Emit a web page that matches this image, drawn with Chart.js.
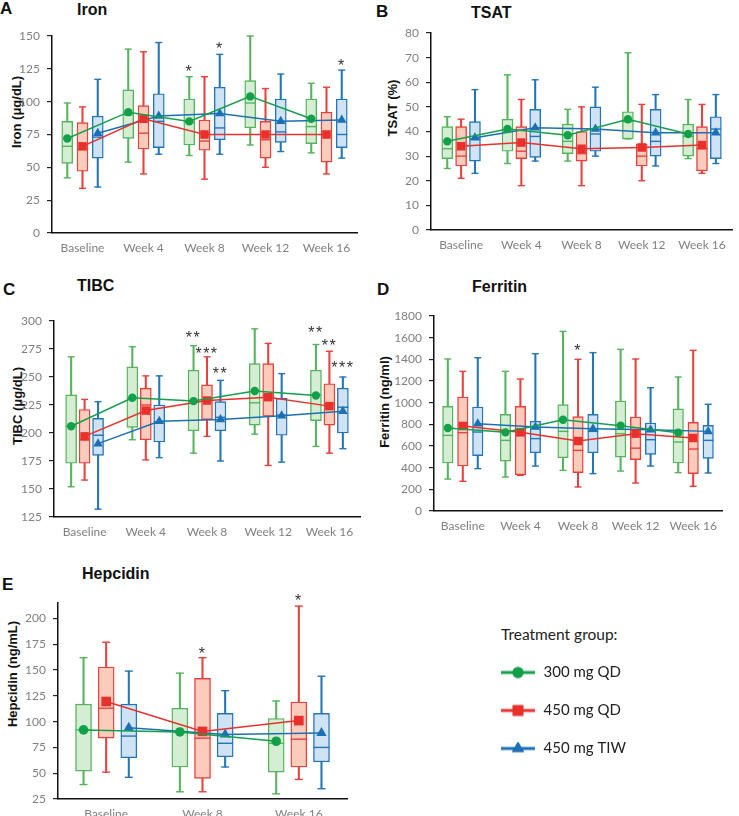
<!DOCTYPE html>
<html><head><meta charset="utf-8">
<script src="https://cdn.jsdelivr.net/npm/chart.js@4.4.1/dist/chart.umd.min.js"></script>
<style>
body{margin:0;background:#fff;width:739px;height:816px;position:relative;overflow:hidden;font-family:'Liberation Sans',Arial,sans-serif}
canvas{position:absolute}
.t{position:absolute;font-weight:bold;color:#111;white-space:nowrap;line-height:1;font-size:16px}
.yt{position:absolute;transform:translate(-50%,-50%) rotate(-90deg);font:bold 13px 'Liberation Sans',Arial,sans-serif;color:#111;white-space:nowrap;line-height:1}
.lt{position:absolute;font:15.5px Lato,sans-serif;color:#222;white-space:nowrap;line-height:1}
</style></head><body>
<div class="t" style="left:0px;top:0px;font-size:17px">A</div>
<div class="t" style="left:77px;top:2px">Iron</div>
<div class="t" style="left:376px;top:3px;font-size:17px">B</div>
<div class="t" style="left:471px;top:5px">TSAT</div>
<div class="t" style="left:3px;top:281px;font-size:17px">C</div>
<div class="t" style="left:77px;top:278px">TIBC</div>
<div class="t" style="left:377px;top:281px;font-size:17px">D</div>
<div class="t" style="left:472px;top:279px">Ferritin</div>
<div class="t" style="left:2px;top:576px;font-size:17px">E</div>
<div class="t" style="left:82px;top:566px">Hepcidin</div>
<div class="yt" style="left:16px;top:112px">Iron (μg/dL)</div>
<div class="yt" style="left:392px;top:108px">TSAT (%)</div>
<div class="yt" style="left:17px;top:406px">TIBC (μg/dL)</div>
<div class="yt" style="left:384px;top:402px">Ferritin (ng/ml)</div>
<div class="yt" style="left:12px;top:674px">Hepcidin (ng/mL)</div>
<div class="lt" style="left:501px;top:627px">Treatment group:</div>

<canvas id="cA" width="370" height="260" style="left:0;top:0"></canvas>
<canvas id="cB" width="370" height="260" style="left:369px;top:0"></canvas>
<canvas id="cC" width="370" height="260" style="left:0;top:280px"></canvas>
<canvas id="cD" width="370" height="260" style="left:369px;top:280px"></canvas>
<canvas id="cE" width="480" height="256" style="left:0;top:560px"></canvas>
<canvas id="cL" width="200" height="150" style="left:477px;top:642px"></canvas>

<script>
// ---------- DATA ----------
const timepoints = ['Baseline', 'Week 4', 'Week 8', 'Week 12', 'Week 16'];
const hepcidinTimepoints = ['Baseline', 'Week 8', 'Week 16'];
const groupNames = ['300 mg QD', '450 mg QD', '450 mg TIW'];

// box plots: [min, Q1, median, Q3, max] per timepoint
const ironBox300 = [[42,53,66,85,99],[54,72,90,109,140],[59,67,84,102,119],[67,80,99,116,150],[61,68,81,102,114]];
const ironBox450 = [[34,47,64,84,96],[45,64,76,97,138],[41,63,70,86,119],[50,57,71,85,110],[45,54,75,92,111]];
const ironBoxTIW = [[35,57,73,89,117],[60,65,85,106,145],[60,71,80,111,136],[62,69,77,102,121],[57,65,75,102,124]];
const ironMean300 = [72, 92, 85, 104, 87];
const ironMean450 = [66, 87, 75, 75, 75];
const ironMeanTIW = [76, 89, 91, 85, 86];
const ironTicks = [0, 25, 50, 75, 100, 125, 150];
const ironStars = [[2,0,'*',125],[2,2,'*',143],[4,2,'*',130]];

const tsatBox300 = [[25,29,33,42,46],[27,32,40,45,63],[28,31,36,43,49],[37,37,44,48,72],[29,30,38,43,53]];
const tsatBox450 = [[21,26,30,42,45],[18,29,32,42,53],[18,28,31,40,50],[20,26,30,35,51],[23,24,33,42,51]];
const tsatBoxTIW = [[23,28,37,44,57],[28,29.5,38,49,61],[30,32,39,50,58],[26,30,36,49,55],[27,29,41,46,55]];
const tsatMean300 = [36, 41, 38.5, 45, 39];
const tsatMean450 = [34, 35.5, 33, 33.5, 34.5];
const tsatMeanTIW = [37.5, 41.5, 41, 39.5, 39.5];
const tsatTicks = [0, 10, 20, 30, 40, 50, 60, 70, 80];

const tibcBox300 = [[152,173,206,234,268],[194,205,231,259,277],[182,202,228,256,278],[199,207,227,262,293],[188,211,234,256,279]];
const tibcBox450 = [[158,173,194,221,230],[176,194,225,240,251],[197,212,229,243,268],[171,215,234,262,280],[182,207,226,244,273]];
const tibcBoxTIW = [[132,180,198,213,228],[178,192,210,225,251],[175,202,214,228,247],[174,198,216,231,253],[186,200,223,240,250]];
const tibcMean300 = [206, 231.5, 228.5, 237.5, 233.5];
const tibcMean450 = [197, 220, 229, 232, 224];
const tibcMeanTIW = [190.5, 210.5, 212, 215.5, 219.5];
const tibcTicks = [125, 150, 175, 200, 225, 250, 275, 300];
const tibcStars = [[2,0,'**',288],[2,1,'***',274],[2,2,'**',256],[4,0,'**',292],[4,1,'**',281],[4,2,'***',261]];

const ferBox300 = [[295,443,698,966,1403],[314,461,652,892,1289],[375,492,735,982,1658],[369,498,714,1015,1492],[354,443,637,942,1237]];
const ferBox450 = [[274,415,723,1052,1289],[329,335,698,966,1218],[222,354,560,871,1400],[258,474,580,868,1403],[228,345,572,818,1483]];
const ferBoxTIW = [[391,511,729,960,1415],[415,538,668,828,1452],[345,538,735,892,1462],[415,523,658,812,1138],[351,486,652,791,985]];
const ferMean300 = [766, 726, 843, 788, 723];
const ferMean450 = [785, 726, 646, 714, 674];
const ferMeanTIW = [806, 775, 760, 751, 735];
const ferTicks = [0, 200, 400, 600, 800, 1000, 1200, 1400, 1600, 1800];
const ferStars = [[2,1,'*',1505]];

const hepBox300 = [[39,52,92,117,162],[32,56,90,113,147],[30,51,79,103,120]];
const hepBox450 = [[51,84,113,153,177],[32,45,84,142,162],[44,56,83,119,212]];
const hepBoxTIW = [[46,65,86,117,149],[56,66,79,108,130],[35,61,75,108,144]];
const hepMean300 = [92, 90, 81];
const hepMean450 = [119.5, 90.5, 101];
const hepMeanTIW = [94, 87.5, 89];
const hepTicks = [25, 50, 75, 100, 125, 150, 175, 200];
const hepStars = [[1,1,'*',169],[2,1,'*',220]];

// ---------- STYLE ----------
const fills = ['#d5eed3', '#fbcbbb', '#cfe3f5'];
const edges = ['#55b45c', '#e8413c', '#2275b9'];
const lineCols = ['#13a04a', '#e8312c', '#1b70b5'];
const markers = ['circle', 'rect', 'triangle'];
const tickFont = {family: 'Lato', size: 12};
const tickColor = '#808080';

const starPlugin = {
  id: 'stars',
  afterDatasetsDraw(chart, args, opts) {
    const {ctx, scales: {x, y}} = chart;
    ctx.save();
    ctx.fillStyle = '#333';
    ctx.font = '16px "Liberation Sans"';
    ctx.textAlign = 'center';
    ctx.textBaseline = 'middle';
    try { ctx.letterSpacing = '1.5px'; } catch (e) {}
    (opts.items || []).forEach(([t, g, txt, v]) => {
      ctx.fillText(txt, x.getPixelForValue(t + opts.offset * (g - 1)), y.getPixelForValue(v) + 4);
    });
    ctx.restore();
  }
};

function buildPanel(id, o) {
  const n = o.labels.length;
  const datasets = [];
  o.boxes.forEach((boxes, g) => {
    const xs = boxes.map((b, i) => i + o.offset * (g - 1));
    datasets.push({type: 'bar', data: boxes.map((b, i) => ({x: xs[i], y: [b[0], b[4]]})),
      backgroundColor: edges[g], borderWidth: 0, barThickness: 1.4, maxBarThickness: 1.4, grouped: false, order: 6, clip: false});
    datasets.push({type: 'bar', data: boxes.map((b, i) => ({x: xs[i], y: [b[1], b[3]]})),
      backgroundColor: fills[g], borderColor: edges[g], borderWidth: 1.4, borderSkipped: false,
      barThickness: o.boxW, maxBarThickness: o.boxW, grouped: false, order: 5, clip: false});
    datasets.push({type: 'scatter', data: boxes.map((b, i) => ({x: xs[i], y: b[2]})),
      pointStyle: 'line', pointRadius: o.boxW / 2, borderColor: edges[g], pointBorderColor: edges[g],
      borderWidth: 1.4, pointBorderWidth: 1.4, order: 4, clip: false});
    datasets.push({type: 'scatter', data: boxes.flatMap((b, i) => [{x: xs[i], y: b[0]}, {x: xs[i], y: b[4]}]),
      pointStyle: 'line', pointRadius: o.capR, borderColor: edges[g], pointBorderColor: edges[g],
      borderWidth: 1.4, pointBorderWidth: 1.4, order: 4, clip: false});
    datasets.push({type: 'line', data: o.means[g].map((m, i) => ({x: xs[i], y: m})),
      borderColor: lineCols[g], backgroundColor: lineCols[g], pointBackgroundColor: lineCols[g],
      pointBorderColor: lineCols[g], pointBorderWidth: 0, pointStyle: markers[g], pointRadius: o.markR[g],
      borderWidth: 1.5, order: 1, clip: false});
  });
  const cv = document.getElementById(id);
  return new Chart(cv, {
    type: 'bar',
    data: {datasets},
    plugins: [starPlugin],
    options: {
      responsive: false, animation: false, events: [],
      layout: {padding: {left: 0, top: o.top, right: cv.width - o.right, bottom: cv.height - o.bottom - o.xH}},
      plugins: {legend: {display: false}, tooltip: {enabled: false}, stars: {items: o.stars, offset: o.offset}},
      scales: {
        x: {type: 'linear', min: -0.5, max: n - 0.5, offset: false,
          afterBuildTicks: ax => { ax.ticks = o.labels.map((_, i) => ({value: i})); },
          afterFit: ax => { ax.height = o.xH; },
          ticks: {callback: v => o.labels[v], color: tickColor, font: tickFont, padding: 8, autoSkip: false, maxRotation: 0},
          grid: {display: false, drawTicks: false},
          border: {display: true, color: '#111', width: 1.5}},
        y: {type: 'linear', min: o.yMin, max: o.yMax,
          afterBuildTicks: ax => { ax.ticks = o.yTicks.map(v => ({value: v})); },
          afterFit: ax => { ax.width = o.yW; },
          ticks: {color: tickColor, font: tickFont, padding: 7, callback: v => String(v)},
          grid: {drawOnChartArea: false, drawTicks: true, tickLength: 5, color: '#222', lineWidth: 1.2},
          border: {display: true, color: '#111', width: 1.5}}
      }
    }
  });
}

buildPanel('cA', {labels: timepoints, boxes: [ironBox300, ironBox450, ironBoxTIW], means: [ironMean300, ironMean450, ironMeanTIW],
  yTicks: ironTicks, yMin: 0, yMax: 150, stars: ironStars, offset: 0.25, boxW: 11, capR: 3.5, markR: [4.2, 6, 5.5],
  yW: 52, top: 36, right: 357, bottom: 233, xH: 24});
buildPanel('cB', {labels: timepoints, boxes: [tsatBox300, tsatBox450, tsatBoxTIW], means: [tsatMean300, tsatMean450, tsatMeanTIW],
  yTicks: tsatTicks, yMin: 0, yMax: 80, stars: [], offset: 0.23, boxW: 11, capR: 3.5, markR: [4.2, 6, 5.5],
  yW: 62, top: 33, right: 370, bottom: 230, xH: 24});
buildPanel('cC', {labels: timepoints, boxes: [tibcBox300, tibcBox450, tibcBoxTIW], means: [tibcMean300, tibcMean450, tibcMeanTIW],
  yTicks: tibcTicks, yMin: 125, yMax: 300, stars: tibcStars, offset: 0.22, boxW: 11, capR: 3.5, markR: [4.2, 6, 5.5],
  yW: 54, top: 41, right: 360, bottom: 237, xH: 23});
buildPanel('cD', {labels: timepoints, boxes: [ferBox300, ferBox450, ferBoxTIW], means: [ferMean300, ferMean450, ferMeanTIW],
  yTicks: ferTicks, yMin: 0, yMax: 1800, stars: ferStars, offset: 0.26, boxW: 10.5, capR: 3.5, markR: [4.2, 6, 5.5],
  yW: 65, top: 36, right: 353, bottom: 231, xH: 24});
buildPanel('cE', {labels: hepcidinTimepoints, boxes: [hepBox300, hepBox450, hepBoxTIW], means: [hepMean300, hepMean450, hepMeanTIW],
  yTicks: hepTicks, yMin: 25, yMax: 215, stars: hepStars, offset: 0.235, boxW: 16, capR: 4, markR: [4.8, 6.8, 6],
  yW: 58, top: 43, right: 347, bottom: 239, xH: 17});

// ---------- LEGEND ----------
function legendIcon(g) {
  const c = document.createElement('canvas');
  c.width = 36; c.height = 14;
  const x = c.getContext('2d');
  x.strokeStyle = lineCols[g]; x.lineWidth = 3;
  x.beginPath(); x.moveTo(1, 7); x.lineTo(35, 7); x.stroke();
  x.fillStyle = lineCols[g]; x.strokeStyle = lineCols[g];
  Chart.helpers.drawPoint(x, {pointStyle: markers[g], radius: [5.5, 7.5, 7][g], borderWidth: 0, rotation: 0}, 18, 7);
  x.fill();
  return c;
}
new Chart(document.getElementById('cL'), {
  type: 'line',
  data: {datasets: groupNames.map((name, g) => ({label: name, data: [], borderColor: lineCols[g], backgroundColor: lineCols[g]}))},
  options: {
    responsive: false, animation: false, events: [],
    layout: {padding: 0},
    scales: {x: {display: false}, y: {display: false}},
    plugins: {
      tooltip: {enabled: false},
      legend: {position: 'top', align: 'start', maxHeight: 150,
        labels: {usePointStyle: true, pointStyleWidth: 36, padding: 23, color: '#222', font: {family: 'Lato', size: 15},
          generateLabels: chart => groupNames.map((name, g) => ({text: name, pointStyle: legendIcon(g), fillStyle: lineCols[g],
            strokeStyle: lineCols[g], lineWidth: 0, hidden: false, datasetIndex: g, fontColor: '#222'}))}}
    }
  }
});
</script>
</body></html>
